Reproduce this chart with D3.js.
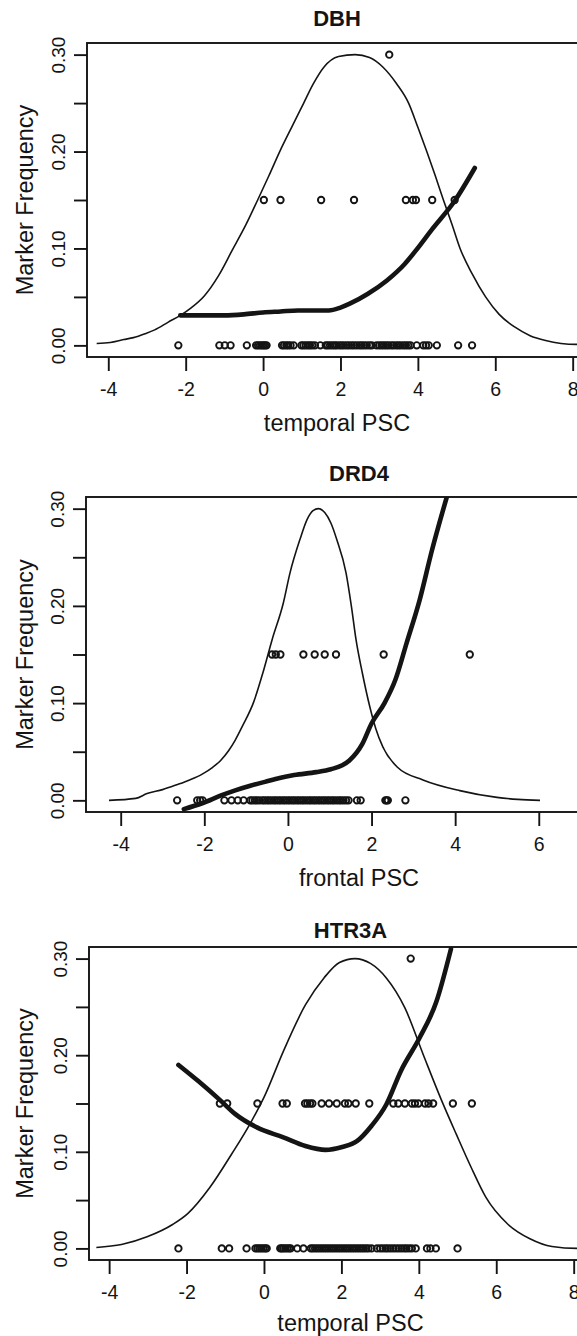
<!DOCTYPE html>
<html>
<head>
<meta charset="utf-8">
<script src="https://cdn.jsdelivr.net/npm/d3@7"></script>
<style>
  body { margin: 0; background: #fff; }
  svg { display: block; font-family: "Liberation Sans", Arial, Helvetica, sans-serif; }
</style>
</head>
<body>
<svg id="chart" width="577" height="1336"></svg>
<script>
// ---- DBH (temporal PSC) ----
const dbhDensity = [[-4.30,0.002],[-3.95,0.003],[-3.60,0.006],[-3.35,0.008],[-3.05,0.012],[-2.80,0.016],[-2.45,0.024],[-2.14,0.031],[-1.85,0.039],[-1.52,0.051],[-1.15,0.072],[-0.80,0.098],[-0.45,0.124],[-0.14,0.150],[0.15,0.175],[0.43,0.200],[0.75,0.226],[1.05,0.250],[1.30,0.270],[1.57,0.287],[1.95,0.298],[2.38,0.300],[2.75,0.297],[3.10,0.287],[3.45,0.270],[3.76,0.250],[4.00,0.225],[4.23,0.200],[4.45,0.175],[4.66,0.150],[4.88,0.125],[5.09,0.100],[5.40,0.074],[5.75,0.050],[6.10,0.032],[6.50,0.019],[6.90,0.010],[7.30,0.005],[7.70,0.002],[8.10,0.001],[8.40,0.001]];
const dbhFit = [[-2.14,0.031],[-1.5,0.031],[-1.0,0.031],[-0.5,0.032],[0.0,0.034],[0.45,0.035],[0.9,0.036],[1.7,0.036],[2.0,0.039],[2.24,0.043],[2.7,0.053],[3.2,0.067],[3.66,0.084],[3.95,0.098],[4.37,0.12],[4.95,0.149],[5.47,0.183]];
const dbhTop = [3.26];
const dbhMid = [0.02, 0.45, 1.5, 2.35, 3.69, 3.87, 3.95, 4.37, 4.95];
const dbhZero = [-2.19, -1.13, -0.99, -0.84, -0.42, -0.18, -0.13, -0.08, -0.03, 0.01, 0.05, 0.09, 0.49, 0.54, 0.6, 0.65, 0.71, 0.79, 0.99, 1.04, 1.1, 1.16, 1.21, 1.27, 1.34, 1.48, 1.62, 1.67, 1.73, 1.79, 1.85, 1.9, 1.97, 2.03, 2.09, 2.16, 2.22, 2.29, 2.35, 2.42, 2.49, 2.55, 2.61, 2.68, 2.75, 2.81, 2.93, 3.0, 3.06, 3.12, 3.18, 3.24, 3.31, 3.37, 3.44, 3.5, 3.56, 3.63, 3.69, 3.75, 3.81, 3.97, 4.14, 4.21, 4.28, 4.49, 5.04, 5.4];

// ---- DRD4 (frontal PSC) ----
const drd4Density = [[-4.28,0.0],[-3.64,0.002],[-3.37,0.007],[-3.0,0.011],[-2.66,0.016],[-2.35,0.021],[-2.05,0.027],[-1.80,0.034],[-1.61,0.041],[-1.42,0.051],[-1.26,0.062],[-1.08,0.077],[-0.82,0.101],[-0.60,0.131],[-0.38,0.165],[-0.11,0.203],[0.05,0.234],[0.285,0.268],[0.46,0.289],[0.60,0.298],[0.73,0.300],[0.88,0.296],[1.03,0.285],[1.17,0.268],[1.39,0.234],[1.52,0.199],[1.63,0.165],[1.78,0.131],[1.96,0.096],[2.10,0.074],[2.27,0.055],[2.62,0.034],[3.23,0.021],[4.11,0.010],[5.00,0.003],[5.50,0.001],[6.03,0.0]];
const drd4Fit = [[-2.49,-0.009],[-2.05,-0.003],[-1.6,0.005],[-1.26,0.0103],[-0.9,0.015],[-0.55,0.019],[-0.2,0.023],[0.15,0.026],[0.68,0.029],[1.03,0.032],[1.3,0.036],[1.47,0.041],[1.78,0.058],[2.0,0.079],[2.31,0.1],[2.57,0.124],[2.84,0.162],[3.15,0.206],[3.45,0.258],[3.8,0.312]];
const drd4Top = [];
const drd4Mid = [-0.38, -0.29, -0.18, 0.37, 0.64, 0.88, 1.15, 2.29, 4.35];
const drd4Zero = [-2.65, -2.17, -2.1, -2.04, -1.52, -1.35, -1.2, -1.06, -0.9, -0.85, -0.79, -0.74, -0.68, -0.61, -0.56, -0.5, -0.45, -0.39, -0.33, -0.28, -0.22, -0.17, -0.11, -0.06, 0.0, 0.05, 0.11, 0.16, 0.22, 0.27, 0.33, 0.38, 0.44, 0.5, 0.55, 0.61, 0.66, 0.72, 0.77, 0.83, 0.88, 0.94, 0.99, 1.05, 1.1, 1.16, 1.22, 1.27, 1.33, 1.39, 1.45, 1.65, 1.74, 2.33, 2.36, 2.39, 2.81];

// ---- HTR3A (temporal PSC) ----
const htrDensity = [[-4.33,0.001],[-3.68,0.004],[-3.02,0.012],[-2.35,0.025],[-1.97,0.036],[-1.4,0.063],[-0.83,0.098],[-0.36,0.129],[0.03,0.159],[0.5,0.204],[1.07,0.252],[1.55,0.28],[1.95,0.296],[2.35,0.30],[2.75,0.295],[3.16,0.28],[3.64,0.249],[4.11,0.201],[4.59,0.153],[4.97,0.118],[5.35,0.084],[5.73,0.053],[6.3,0.025],[6.87,0.01],[7.44,0.002],[8.1,0.0],[8.5,0.0]];
const htrFit = [[-2.21,0.19],[-1.69,0.173],[-1.12,0.153],[-0.74,0.139],[-0.17,0.125],[0.5,0.115],[1.07,0.106],[1.59,0.102],[2.02,0.105],[2.4,0.111],[2.78,0.127],[3.16,0.149],[3.54,0.184],[4.02,0.218],[4.45,0.255],[4.83,0.31]];
const htrTop = [3.79];
const htrMid = [-1.14, -0.95, -0.17, 0.48, 0.59, 1.06, 1.12, 1.19, 1.25, 1.49, 1.68, 1.88, 2.09, 2.18, 2.37, 2.72, 3.34, 3.47, 3.64, 3.82, 3.9, 3.99, 4.16, 4.25, 4.37, 4.88, 5.37];
const htrZero = [-2.21, -1.09, -0.9, -0.45, -0.22, -0.17, -0.12, -0.07, -0.02, 0.03, 0.07, 0.42, 0.46, 0.5, 0.55, 0.6, 0.65, 0.69, 0.86, 1.02, 1.21, 1.26, 1.32, 1.38, 1.44, 1.5, 1.56, 1.62, 1.68, 1.74, 1.8, 1.86, 1.92, 1.98, 2.04, 2.1, 2.16, 2.22, 2.28, 2.34, 2.4, 2.46, 2.52, 2.58, 2.64, 2.7, 2.78, 2.92, 3.0, 3.07, 3.14, 3.2, 3.27, 3.34, 3.41, 3.48, 3.55, 3.62, 3.68, 3.75, 3.82, 3.92, 4.21, 4.3, 4.44, 5.0];

// marker frequency rows the points sit on
const rowLevels = [0.30, 0.15, 0.00];

// axis ticks and labels
const yTicks = [0, 0.05, 0.10, 0.15, 0.20, 0.25, 0.30];
const yLabelled = [0, 0.10, 0.20, 0.30];
const xTicksTemporal = [-4, -2, 0, 2, 4, 6, 8];
const xTicksFrontal = [-4, -2, 0, 2, 4, 6];
const yTitle = "Marker Frequency";

// panel layout (positions only)
const panels = [
  { title: "DBH", xTitle: "temporal PSC", density: dbhDensity, fit: dbhFit, rows: [dbhTop, dbhMid, dbhZero],
    xTicks: xTicksTemporal, xLim: [-4.55, 8.37], left: 87, right: 587, top: 43, bottom: 357, titleY: 26, xTitleY: 431 },
  { title: "DRD4", xTitle: "frontal PSC", density: drd4Density, fit: drd4Fit, rows: [drd4Top, drd4Mid, drd4Zero],
    xTicks: xTicksFrontal, xLim: [-4.83, 8.23], left: 86, right: 632, top: 497, bottom: 812, titleY: 481, xTitleY: 886 },
  { title: "HTR3A", xTitle: "temporal PSC", density: htrDensity, fit: htrFit, rows: [htrTop, htrMid, htrZero],
    xTicks: xTicksTemporal, xLim: [-4.52, 8.99], left: 89, right: 612, top: 947, bottom: 1260, titleY: 938, xTitleY: 1331 }
];

const ink = "#141414";
const svg = d3.select("#chart");

panels.forEach((p, i) => {
  const x = d3.scaleLinear().domain(p.xLim).range([p.left, p.right]);
  const y = d3.scaleLinear().domain([-0.012, 0.312]).range([p.bottom, p.top]);
  const cx = (p.left + p.right) / 2;

  // clip to the plot region
  svg.append("clipPath").attr("id", "clip" + i)
    .append("rect")
      .attr("x", p.left).attr("y", p.top)
      .attr("width", p.right - p.left).attr("height", p.bottom - p.top);

  const plot = svg.append("g").attr("clip-path", `url(#clip${i})`);

  const line = d3.line()
    .x(d => x(d[0]))
    .y(d => y(d[1]))
    .curve(d3.curveMonotoneX);

  // density curve (thin)
  plot.append("path")
    .datum(p.density)
    .attr("d", line)
    .attr("fill", "none")
    .attr("stroke", ink)
    .attr("stroke-width", 1.6);

  // fitted curve (thick)
  plot.append("path")
    .datum(p.fit)
    .attr("d", line)
    .attr("fill", "none")
    .attr("stroke", ink)
    .attr("stroke-width", 4.6)
    .attr("stroke-linecap", "round")
    .attr("stroke-linejoin", "round");

  // observed markers
  p.rows.forEach((vals, r) => {
    plot.selectAll(null)
      .data(vals)
      .enter().append("circle")
        .attr("cx", d => x(d))
        .attr("cy", y(rowLevels[r]))
        .attr("r", 3.2)
        .attr("fill", "none")
        .attr("stroke", ink)
        .attr("stroke-width", 1.9);
  });

  // box
  svg.append("rect")
    .attr("x", p.left).attr("y", p.top)
    .attr("width", p.right - p.left).attr("height", p.bottom - p.top)
    .attr("fill", "none")
    .attr("stroke", ink)
    .attr("stroke-width", 1.9);

  // x axis
  const xAxis = svg.append("g")
    .attr("transform", `translate(0,${p.bottom})`)
    .call(d3.axisBottom(x).tickValues(p.xTicks).tickSize(14).tickSizeOuter(0).tickPadding(11)
      .tickFormat(d => String(d).replace("\u2212", "-")));
  xAxis.select(".domain").remove();
  xAxis.selectAll("line").attr("stroke", ink).attr("stroke-width", 1.9);
  xAxis.selectAll("text")
    .attr("fill", ink)
    .style("font-size", "19.5px")
    .style("font-family", "'Liberation Sans', Arial, sans-serif");

  // y axis
  const yAxis = svg.append("g")
    .attr("transform", `translate(${p.left},0)`)
    .call(d3.axisLeft(y).tickValues(yTicks).tickSize(13).tickSizeOuter(0)
      .tickFormat(d => yLabelled.some(v => Math.abs(v - d) < 1e-9) ? d3.format(".2f")(d) : ""));
  yAxis.select(".domain").remove();
  yAxis.selectAll("line").attr("stroke", ink).attr("stroke-width", 1.9);
  yAxis.selectAll("text")
    .attr("x", null).attr("dy", null)
    .attr("transform", "translate(-29,0) rotate(-90)")
    .attr("text-anchor", "middle")
    .attr("dominant-baseline", "central")
    .attr("fill", ink)
    .style("font-size", "19px")
    .style("font-family", "'Liberation Sans', Arial, sans-serif");

  // titles
  svg.append("text")
    .attr("x", cx).attr("y", p.titleY)
    .attr("text-anchor", "middle")
    .attr("font-weight", "bold")
    .attr("font-size", 22)
    .attr("fill", ink)
    .text(p.title);

  svg.append("text")
    .attr("x", cx).attr("y", p.xTitleY)
    .attr("text-anchor", "middle")
    .attr("font-size", 23.5)
    .attr("fill", ink)
    .text(p.xTitle);

  svg.append("text")
    .attr("transform", `translate(25,${(p.top + p.bottom) / 2}) rotate(-90)`)
    .attr("text-anchor", "middle")
    .attr("dominant-baseline", "central")
    .attr("font-size", 23.5)
    .attr("fill", ink)
    .text(yTitle);
});
</script>
</body>
</html>
